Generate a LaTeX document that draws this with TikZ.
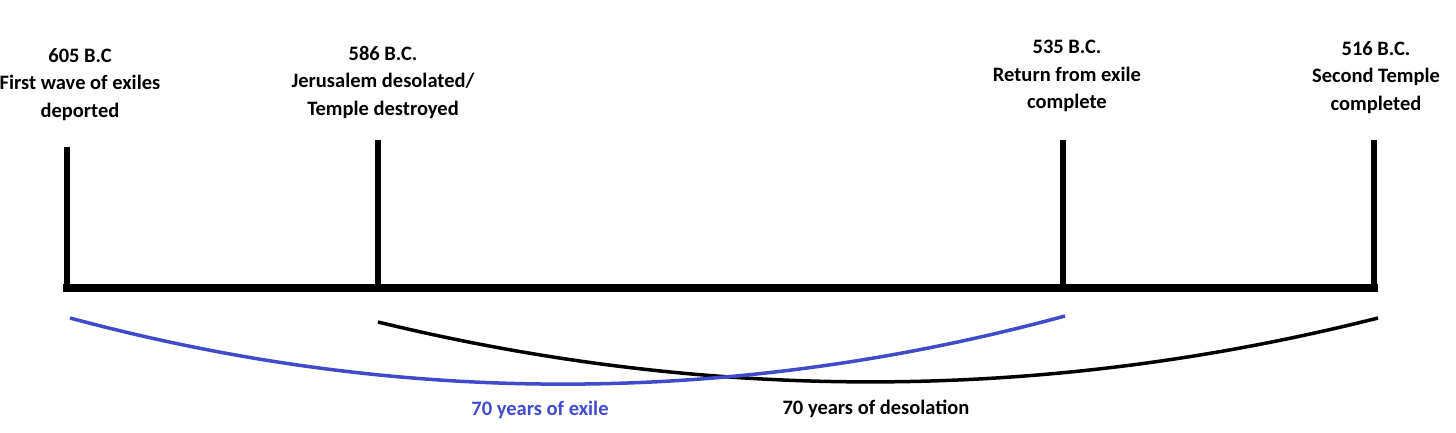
\documentclass[tikz,border=0pt]{standalone}
\usepackage{fontspec}
\setmainfont{Carlito}
\definecolor{exileblue}{RGB}{66,74,204}
\begin{document}
\begin{tikzpicture}[x=1pt,y=-1pt,
  lbl/.style={font=\bfseries\fontsize{20.5}{27.5}\selectfont, align=center, inner sep=0pt, anchor=north},
  tick/.style={line width=6.5pt, line cap=butt},
  axis/.style={line width=8pt, line cap=butt},
  span/.style={line width=3.5pt},
  spanlbl/.style={font=\bfseries\fontsize{20.5}{24}\selectfont, inner sep=0pt}]
\useasboundingbox (0,0) rectangle (1456,433);
% coordinates
\coordinate (b1) at (67,288);  \coordinate (t1) at (67,147);
\coordinate (b2) at (378,288); \coordinate (t2) at (378,140);
\coordinate (b3) at (1063,288);\coordinate (t3) at (1063,140);
\coordinate (b4) at (1374,288);\coordinate (t4) at (1374,140);
\coordinate (axL) at (63,288); \coordinate (axR) at (1378,288);
% ticks and axis
\draw[tick] (b1) -- (t1);
\draw[tick] (b2) -- (t2);
\draw[tick] (b3) -- (t3);
\draw[tick] (b4) -- (t4);
\draw[axis] (axL) -- (axR);
% labels
\node[lbl] (l1) at (80,48) {605 B.C\\First wave of exiles\\deported};
\node[lbl] (l2) at (383,46) {586 B.C.\\Jerusalem desolated/\\Temple destroyed};
\node[lbl] (l3) at (1067,40) {535 B.C.\\Return from exile\\complete};
\node[lbl] (l4) at (1376,41) {516 B.C.\\Second Temple\\completed};
% spans
\coordinate (e1) at (70,318);  \coordinate (e2) at (1065,316);
\coordinate (d1) at (378,322); \coordinate (d2) at (1378,318);
\draw[span, black] (d1) .. controls (711,403) and (1045,402) .. (d2);
\draw[span, exileblue] (e1) .. controls (401,407) and (733,406) .. (e2);
\node[spanlbl, text=exileblue] (sl1) at (540,410) {70 years of exile};
\node[spanlbl] (sl2) at (876,409) {70 years of desolation};
\end{tikzpicture}
\end{document}
